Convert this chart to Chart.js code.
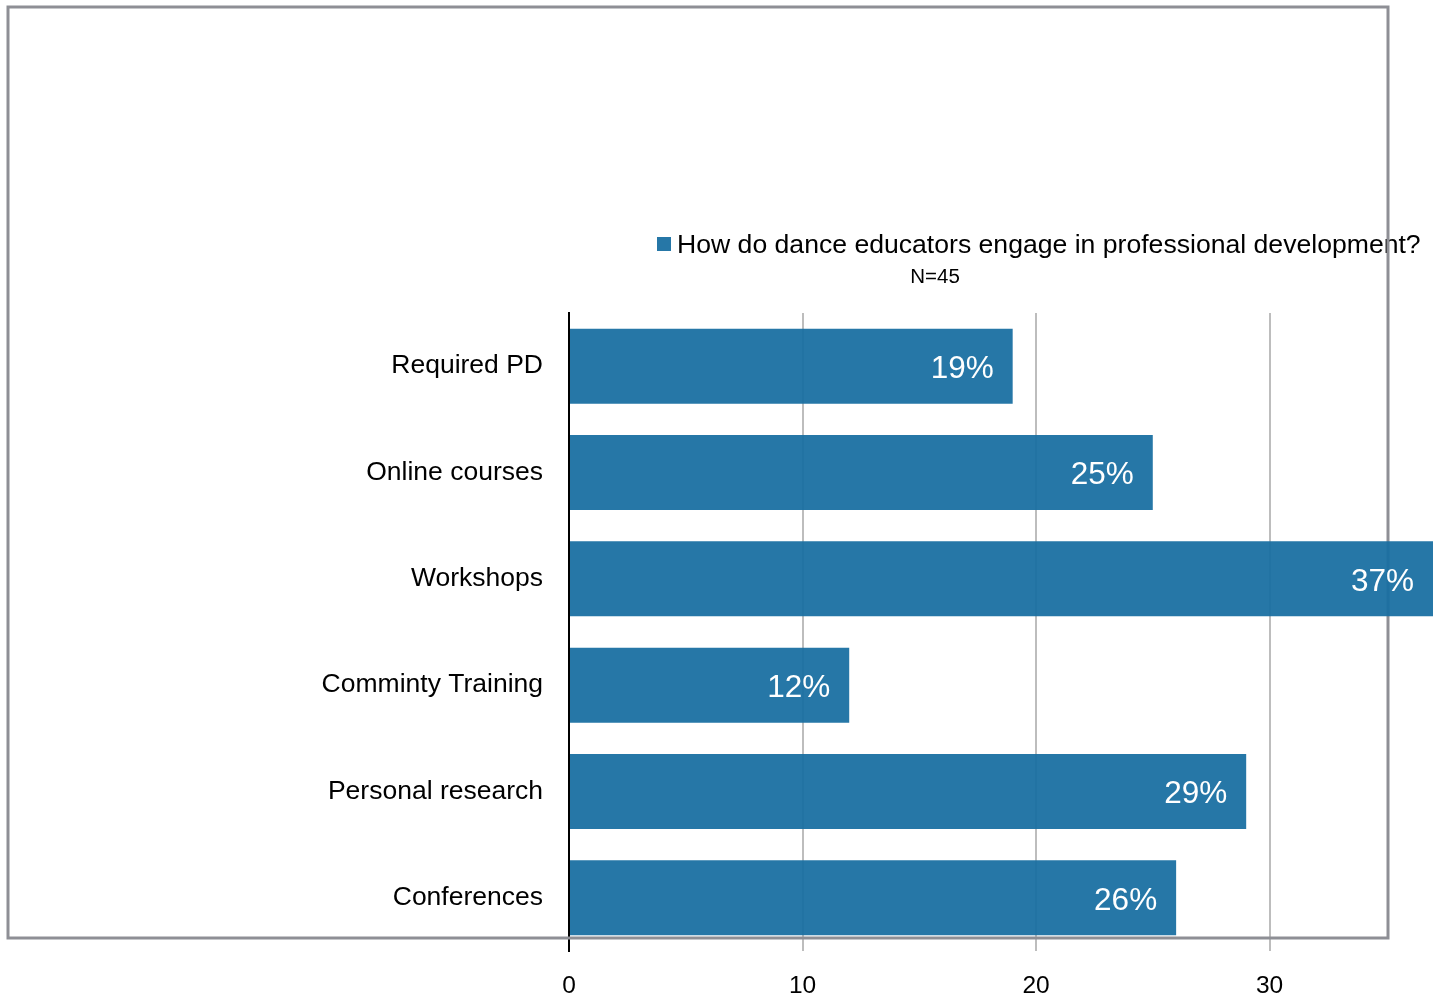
<!DOCTYPE html>
<html>
<head>
<meta charset="utf-8">
<script src="https://cdn.jsdelivr.net/npm/chart.js@4/dist/chart.umd.min.js"></script>
<style>
  body { margin: 0; background: #fff; }
  #wrap { width: 1439px; height: 998px; }
</style>
</head>
<body>
<div id="wrap"><canvas id="grafico" width="1439" height="998"></canvas></div>
<script>
const categorias = ["Required PD", "Online courses", "Workshops", "Comminty Training", "Personal research", "Conferences"];
const valores = [19, 25, 37, 12, 29, 26];
const rotulos = ["19%", "25%", "37%", "12%", "29%", "26%"];
const ticksX = [0, 10, 20, 30];
const tituloLegenda = "How do dance educators engage in professional development?";
const subtitulo = "N=45";

const corBarra = "rgba(24,110,162,0.94)";
const fonte = "'Liberation Sans', Arial, sans-serif";

// moldura, legenda e rotulos dentro das barras
const extras = {
  id: "extras",
  beforeDatasetsDraw(chart) {
    const ctx = chart.ctx;
    ctx.save();
    // legenda
    ctx.fillStyle = corBarra;
    ctx.fillRect(657, 237, 14, 14);
    ctx.fillStyle = "#000";
    ctx.font = "26.6px " + fonte;
    ctx.textBaseline = "middle";
    ctx.textAlign = "left";
    ctx.fillText(tituloLegenda, 677, 246);
    ctx.font = "20.5px " + fonte;
    ctx.textAlign = "center";
    ctx.fillText(subtitulo, 935, 277);
    // moldura
    ctx.strokeStyle = "#8e8f95";
    ctx.lineWidth = 3;
    ctx.strokeRect(8, 7, 1380, 931);
    ctx.restore();
  },
  afterDatasetsDraw(chart) {
    const ctx = chart.ctx;
    const meta = chart.getDatasetMeta(0);
    ctx.save();
    ctx.fillStyle = "#fff";
    ctx.font = "31.5px " + fonte;
    ctx.textAlign = "right";
    ctx.textBaseline = "middle";
    meta.data.forEach((bar, i) => {
      ctx.fillText(rotulos[i], bar.x - 19, bar.y + 3);
    });
    ctx.restore();
  }
};

const ctx = document.getElementById("grafico").getContext("2d");
new Chart(ctx, {
  type: "bar",
  data: {
    labels: categorias,
    datasets: [{
      label: tituloLegenda,
      data: valores,
      backgroundColor: corBarra,
      borderWidth: 0,
      categoryPercentage: 1,
      barPercentage: 0.705
    }]
  },
  options: {
    indexAxis: "y",
    responsive: false,
    animation: false,
    layout: { padding: { top: 313, right: 6, left: 0, bottom: 0 } },
    plugins: {
      legend: { display: false },
      tooltip: { enabled: false }
    },
    scales: {
      x: {
        min: 0,
        max: 37,
        afterFit: (scale) => { scale.height = 47; },
        afterBuildTicks: (scale) => { scale.ticks = ticksX.map(v => ({ value: v })); },
        border: { display: false },
        grid: {
          drawTicks: false,
          lineWidth: 2,
          color: (c) => (c.tick && c.tick.value === 0) ? "rgba(0,0,0,0)" : "#bdbdbd"
        },
        ticks: {
          padding: 21,
          color: "#000",
          font: { family: fonte, size: 24.5 }
        }
      },
      y: {
        afterFit: (scale) => { scale.width = 569; },
        border: { display: true, color: "#000", width: 2 },
        grid: { display: false, drawTicks: false },
        ticks: {
          padding: 26,
          color: "#000",
          font: { family: fonte, size: 26.5 }
        }
      }
    }
  },
  plugins: [extras]
});
</script>
</body>
</html>
